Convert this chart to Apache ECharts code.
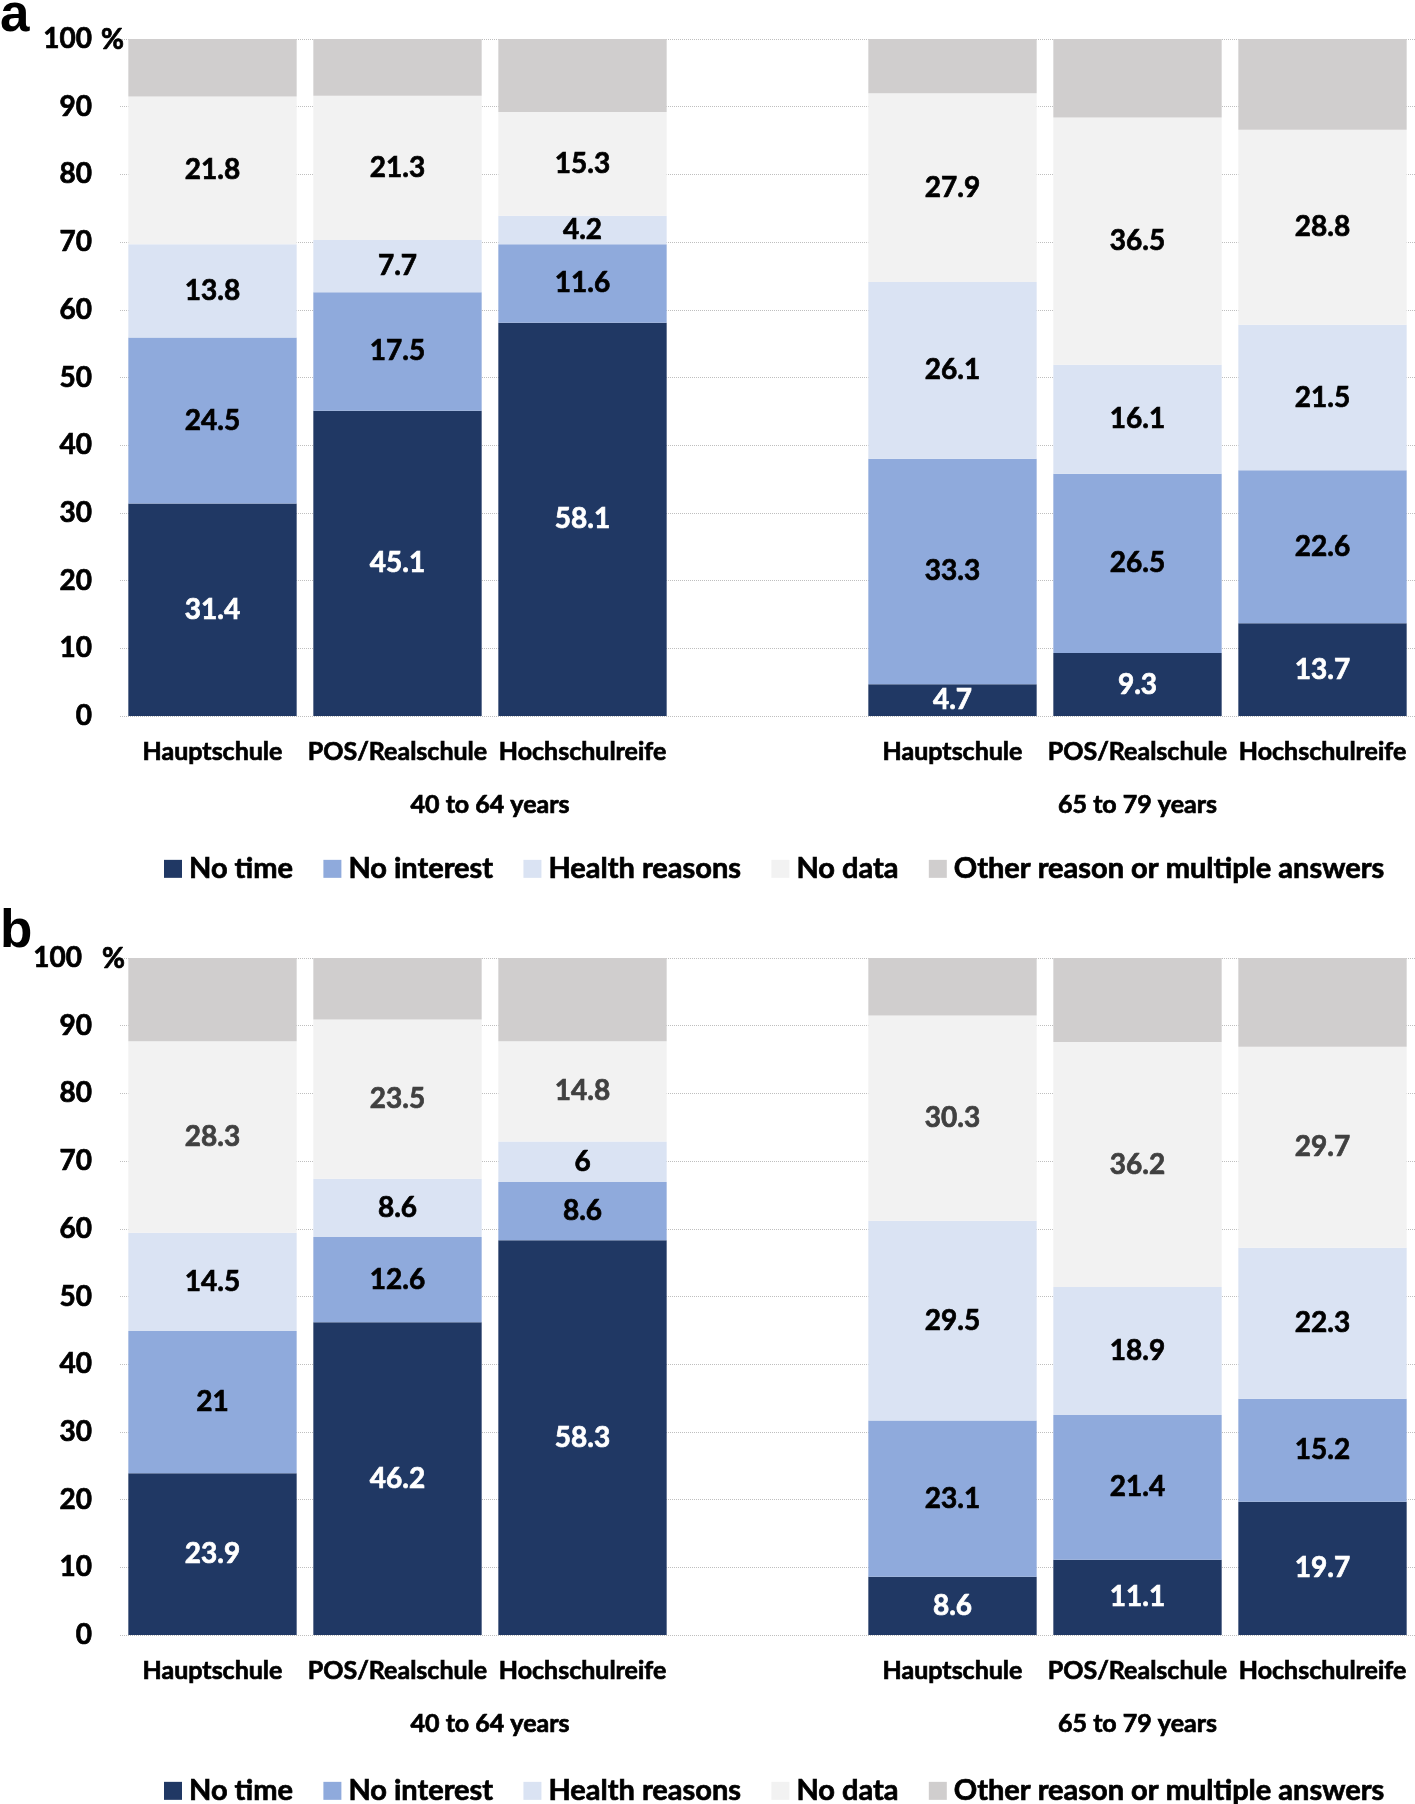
<!DOCTYPE html>
<html>
<head>
<meta charset="utf-8">
<script src="https://cdn.jsdelivr.net/npm/echarts@6/dist/echarts.min.js"></script>
<style>
  html, body { margin: 0; padding: 0; background: #fff; }
  #chart { width: 1415px; height: 1804px; }
</style>
</head>
<body>
<div id="chart"></div>
<script>
// ---- Data ----
const categories = ['Hauptschule', 'POS/Realschule', 'Hochschulreife', '', 'Hauptschule', 'POS/Realschule', 'Hochschulreife'];
const ageGroups = ['40 to 64 years', '65 to 79 years'];
const panelLetters = ['a', 'b'];
const seriesNames = ['No time', 'No interest', 'Health reasons', 'No data', 'Other reason or multiple answers'];
const yTicks = [0, 10, 20, 30, 40, 50, 60, 70, 80, 90, 100];

// Panel a
const aNoTime     = [31.4, 45.1, 58.1, null, 4.7, 9.3, 13.7];
const aNoInterest = [24.5, 17.5, 11.6, null, 33.3, 26.5, 22.6];
const aHealth     = [13.8, 7.7, 4.2, null, 26.1, 16.1, 21.5];
const aNoData     = [21.8, 21.3, 15.3, null, 27.9, 36.5, 28.8];
const aOther      = [8.5, 8.4, 10.8, null, 8.0, 11.6, 13.4];

// Panel b
const bNoTime     = [23.9, 46.2, 58.3, null, 8.6, 11.1, 19.7];
const bNoInterest = [21, 12.6, 8.6, null, 23.1, 21.4, 15.2];
const bHealth     = [14.5, 8.6, 6, null, 29.5, 18.9, 22.3];
const bNoData     = [28.3, 23.5, 14.8, null, 30.3, 36.2, 29.7];
const bOther      = [12.3, 9.1, 12.3, null, 8.5, 12.4, 13.1];

// ---- Styling ----
const FONT = 'Lato';
const BW = 0.7; // slight stroke to thicken glyphs
const colors = ['#203864', '#8FAADC', '#DAE3F3', '#F2F2F2', '#D0CECE'];
const labelColorsA = ['#FFFFFF', '#000000', '#000000', '#000000', null];
const labelColorsB = ['#FFFFFF', '#000000', '#000000', '#404040', null];

const panelsData = [
  [aNoTime, aNoInterest, aHealth, aNoData, aOther],
  [bNoTime, bNoInterest, bHealth, bNoData, bOther]
];
const labelColors = [labelColorsA, labelColorsB];

const gridTops = [39, 958];
const gridHeight = 677;

const chart = echarts.init(document.getElementById('chart'), null, { renderer: 'canvas' });

const grids = gridTops.map(t => ({ left: 120, right: 0, top: t, height: gridHeight }));
const xAxes = gridTops.map((t, i) => ({
  type: 'category',
  gridIndex: i,
  data: categories,
  axisLine: { show: false },
  axisTick: { show: false },
  axisLabel: { fontFamily: FONT, fontWeight: 'bold', fontSize: 25, color: '#000',
    textBorderColor: '#000', textBorderWidth: BW, margin: 23, interval: 0 }
}));
const yAxes = gridTops.map((t, i) => ({
  type: 'value',
  gridIndex: i,
  min: 0, max: 100, interval: 10,
  axisLine: { show: false },
  axisTick: { show: false },
  axisLabel: {
    fontFamily: FONT, fontWeight: 'bold', fontSize: 28, color: '#000',
    textBorderColor: '#000', textBorderWidth: BW, margin: 28,
    formatter: v => (i === 1 && v === 100) ? '{s|100}' : String(v),
    rich: { s: { fontFamily: FONT, fontWeight: 'bold', fontSize: 28, color: '#000',
      textBorderColor: '#000', textBorderWidth: BW, padding: [0, 10, 0, 0] } }
  },
  splitLine: { show: true, lineStyle: { type: 'dotted', color: '#BFBFBF', width: 1 } }
}));

const series = [];
panelsData.forEach((arrs, p) => {
  arrs.forEach((arr, k) => {
    const lc = labelColors[p][k];
    series.push({
      name: seriesNames[k],
      type: 'bar',
      stack: 'panel' + p,
      xAxisIndex: p,
      yAxisIndex: p,
      data: arr,
      barCategoryGap: '9%',
      itemStyle: { color: colors[k] },
      label: lc ? {
        show: true, position: 'inside',
        fontFamily: FONT, fontWeight: 'bold', fontSize: 28, color: lc,
        textBorderColor: lc, textBorderWidth: BW,
        formatter: d => String(d.value)
      } : { show: false },
      emphasis: { disabled: true },
      animation: false
    });
  });
});

const legendCenters = [866, 1788];
const legends = legendCenters.map((c, i) => ({
  data: seriesNames,
  left: 159,
  top: c - 17,
  orient: 'horizontal',
  icon: 'rect',
  itemWidth: 18,
  itemHeight: 18,
  itemGap: 30,
  textStyle: { fontFamily: FONT, fontWeight: 'bold', fontSize: 29, color: '#000',
    textBorderColor: '#000', textBorderWidth: BW, padding: [0, 0, 0, 2] },
  selectedMode: false
}));

chart.setOption({
  backgroundColor: '#fff',
  animation: false,
  grid: grids,
  xAxis: xAxes,
  yAxis: yAxes,
  legend: legends,
  series: series
});

// ---- Annotations positioned via the axes ----
const graphics = [];
const pctX = [101, 102];
const letterDy = [4, 1];
gridTops.forEach((t, p) => {
  const xL = (chart.convertToPixel({ xAxisIndex: p }, 1) + chart.convertToPixel({ xAxisIndex: p }, 2)) / 2;
  const xR = chart.convertToPixel({ xAxisIndex: p }, 5);
  const y0 = chart.convertToPixel({ yAxisIndex: p }, 0);
  const y100 = chart.convertToPixel({ yAxisIndex: p }, 100);
  const gy = y0 + 89;
  [xL, xR].forEach((x, g) => {
    graphics.push({
      type: 'text', x: x, y: gy,
      style: { text: ageGroups[g], fontFamily: FONT, fontWeight: 'bold', fontSize: 25, fill: '#000',
        stroke: '#000', lineWidth: BW, align: 'center', verticalAlign: 'middle' }
    });
  });
  graphics.push({
    type: 'text', x: pctX[p], y: y100 + 1,
    style: { text: '%', fontFamily: FONT, fontWeight: 'bold', fontSize: 28, fill: '#000',
      stroke: '#000', lineWidth: BW, align: 'left', verticalAlign: 'middle' }
  });
  graphics.push({
    type: 'text', x: 0, y: y100 + letterDy[p],
    style: { text: panelLetters[p], fontFamily: 'Liberation Sans', fontWeight: 'bold', fontSize: 53, fill: '#000',
      align: 'left', verticalAlign: 'bottom' }
  });
});
chart.setOption({ graphic: graphics });
</script>
</body>
</html>
